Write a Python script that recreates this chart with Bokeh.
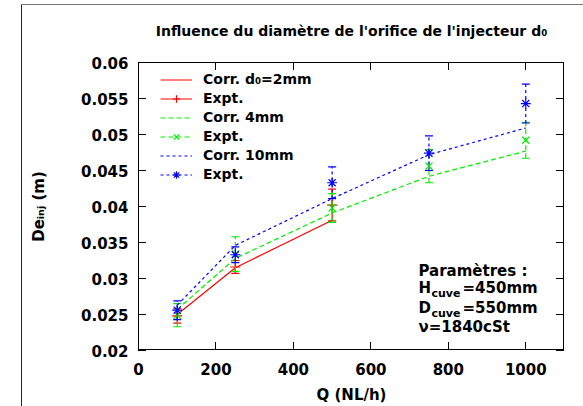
from bokeh.plotting import figure
from bokeh.models import (Range1d, FixedTicker, LinearAxis, Label, Legend,
                          LegendItem, ColumnDataSource)
from bokeh.embed import file_html
from bokeh.resources import INLINE

# ---------------- data ----------------
title_text = "Influence du diamètre de l'orifice de l'injecteur d₀"
x_label = "Q (NL/h)"
y_label = "Deᵢₙⱼ (m)"
x_ticks = [0, 200, 400, 600, 800, 1000]
x_tick_labels = ["0", "200", "400", "600", "800", "1000"]
y_ticks = [0.02, 0.025, 0.03, 0.035, 0.04, 0.045, 0.05, 0.055, 0.06]
y_tick_labels = ["0.02", "0.025", "0.03", "0.035", "0.04", "0.045", "0.05", "0.055", "0.06"]

q_2mm = [100, 250, 500]
de_corr_2mm = [0.0250, 0.0315, 0.0381]
de_expt_2mm = [0.0248, 0.0316, 0.0402]
err_expt_2mm = [0.0010, 0.0009, 0.0022]

q_all = [100, 250, 500, 750, 1000]
de_corr_4mm = [0.0257, 0.0328, 0.0391, 0.0442, 0.0477]
de_expt_4mm = [0.0249, 0.0334, 0.0398, 0.0456, 0.0492]
err_expt_4mm = [0.0016, 0.0024, 0.0020, 0.0023, 0.0025]

de_corr_10mm = [0.0263, 0.0346, 0.0411, 0.0472, 0.0509]
de_expt_10mm = [0.0256, 0.0333, 0.0433, 0.0474, 0.0543]
err_expt_10mm = [0.0013, 0.0011, 0.0022, 0.0024, 0.0027]

# ---------------- figure ----------------
X0, X1, Y0, Y1 = 0, 1100, 0.02, 0.06
FL, FR, FT, FB = 138, 564, 62, 350  # frame in page px
W, H = 583, 406
TICK = 8  # px


def sx(v):
    return FL + (v - X0) / (X1 - X0) * (FR - FL)


def sy(v):
    return FB - (v - Y0) / (Y1 - Y0) * (FB - FT)


def dx(px):
    return X0 + (px - FL) / (FR - FL) * (X1 - X0)


def dy(py):
    return Y1 - (py - FT) / (FB - FT) * (Y1 - Y0)


def css_line(x, y, w, h, color="#000000"):
    return f"linear-gradient({color}, {color}) {x}px {y}px / {w}px {h}px no-repeat"


# frame box, inward ticks and outer page frame painted under the (transparent) canvas
layers = [
    css_line(FL, FT, 1, FB - FT),            # left edge
    css_line(FR - 1, FT, 1, FB - FT),        # right edge
    css_line(FL, FT, FR - FL, 1),            # top edge
    css_line(FL, FB - 1, FR - FL, 1),        # bottom edge
]
for t in x_ticks:
    xp = round(sx(t))
    layers.append(css_line(xp, FB - TICK, 1, TICK))
    layers.append(css_line(xp, FT, 1, TICK))
for t in y_ticks:
    yp = round(sy(t))
    layers.append(css_line(FL, yp, TICK, 1))
    layers.append(css_line(FR - TICK, yp, TICK, 1))
layers.append(css_line(21, 4, W, 1, "#777777"))
layers.append(css_line(21, 4, 1, H, "#222222"))

p = figure(width=W, height=H, x_range=Range1d(X0, X1), y_range=Range1d(Y0, Y1),
           output_backend="svg", toolbar_location=None,
           min_border_left=FL, min_border_right=W - FR,
           min_border_top=FT, min_border_bottom=H - FB)
p.styles = {"background": ", ".join(layers) + ", white"}
p.xgrid.visible = False
p.ygrid.visible = False
p.background_fill_color = None
p.border_fill_color = None
p.outline_line_color = None

FONT = "DejaVu Sans"

p.title.text = title_text
p.title.align = "center"
p.title.vertical_align = "top"
p.title.standoff = 43
p.title.text_font = FONT
p.title.text_font_style = "bold"
p.title.text_font_size = "14px"
p.title.text_color = "black"


def style_axis(ax, show_labels, standoff=10):
    ax.major_tick_in = TICK
    ax.major_tick_out = 0
    ax.minor_tick_line_color = None
    ax.axis_line_color = None
    ax.major_tick_line_color = None
    ax.major_label_text_font = FONT
    ax.major_label_text_font_style = "bold"
    ax.major_label_text_font_size = "15px"
    ax.major_label_standoff = standoff
    ax.major_label_text_color = "black" if show_labels else None
    ax.axis_label_text_font = FONT
    ax.axis_label_text_font_style = "bold"
    ax.axis_label_text_font_size = "15px"
    ax.axis_label_text_color = "black"


p.xaxis.ticker = FixedTicker(ticks=x_ticks)
p.yaxis.ticker = FixedTicker(ticks=y_ticks)
p.xaxis.major_label_overrides = dict(zip(x_ticks, x_tick_labels))
p.yaxis.major_label_overrides = dict(zip(y_ticks, y_tick_labels))
style_axis(p.xaxis[0], True, 12)
style_axis(p.yaxis[0], True, 10)
p.xaxis.axis_label = x_label
p.xaxis.axis_label_standoff = 8
p.yaxis.axis_label = y_label
p.yaxis.axis_label_standoff = 30

top_ax = LinearAxis(ticker=FixedTicker(ticks=x_ticks))
style_axis(top_ax, False, 0)
p.add_layout(top_ax, "above")
right_ax = LinearAxis(ticker=FixedTicker(ticks=y_ticks))
style_axis(right_ax, False, 0)
p.add_layout(right_ax, "right")

# ---------------- series ----------------
items = []


def add_series(q, corr, expt, err, color, dash, marker, label):
    r_line = p.line(q, corr, line_color=color, line_width=1.2, line_dash=dash)
    src = ColumnDataSource(dict(q=q, de=expt,
                                lo=[v - e for v, e in zip(expt, err)],
                                hi=[v + e for v, e in zip(expt, err)]))
    r_seg = p.segment(x0="q", y0="lo", x1="q", y1="hi", source=src,
                      line_color=color, line_width=1.2, line_dash=dash)
    p.scatter(x="q", y="lo", marker="dash", size=8, line_color=color, line_width=1.2, source=src)
    p.scatter(x="q", y="hi", marker="dash", size=8, line_color=color, line_width=1.2, source=src)
    r_pt = p.scatter(x="q", y="de", marker=marker, size=10, line_color=color,
                     line_width=1.2, source=src)
    items.append(LegendItem(label=label, renderers=[r_line]))
    items.append(LegendItem(label="Expt.", renderers=[r_seg, r_pt]))


add_series(q_2mm, de_corr_2mm, de_expt_2mm, err_expt_2mm, "#ff0000", "solid", "cross", "Corr. d₀=2mm")
add_series(q_all, de_corr_4mm, de_expt_4mm, err_expt_4mm, "#00ee00", "5 3", "x", "Corr. 4mm")
add_series(q_all, de_corr_10mm, de_expt_10mm, err_expt_10mm, "#0000ff", "3 3", "asterisk", "Corr. 10mm")

legend = Legend(items=items, location=(22, 166.5), padding=0, margin=0,
                border_line_color=None, background_fill_alpha=0,
                glyph_width=32, glyph_height=19, label_height=19, label_standoff=11,
                spacing=0, label_text_font=FONT, label_text_font_style="bold",
                label_text_font_size="14px", label_text_color="black")
p.add_layout(legend)

# ---------------- parameters block ----------------


def lab(px, py, text, size="15px"):
    p.add_layout(Label(x=dx(px), y=dy(py), text=text, text_font=FONT,
                       text_font_style="bold", text_font_size=size, text_color="black",
                       text_align="left", text_baseline="alphabetic"))


lab(418, 270, "Paramètres :")
lab(418, 287, "H")
lab(431, 293, "cuve", size="11px")
lab(462, 287, "=450mm")
lab(418, 307, "D")
lab(431, 313, "cuve", size="11px")
lab(462, 307, "=550mm")
lab(418, 326, "ν=1840cSt")

open("out.html", "w").write(file_html(p, INLINE))
